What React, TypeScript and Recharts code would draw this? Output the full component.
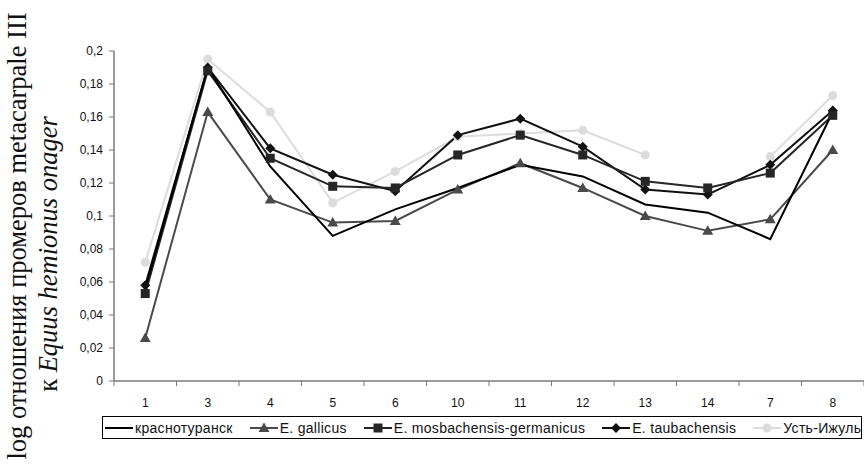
import React from "react";
import { LineChart, Line, XAxis, YAxis, Legend } from "recharts";

const categories = ["1", "3", "4", "5", "6", "10", "11", "12", "13", "14", "7", "8"];
const krasnoturansk = [0.056, 0.19, 0.13, 0.088, 0.104, 0.117, 0.131, 0.124, 0.107, 0.102, 0.086, 0.163];
const gallicus = [0.026, 0.163, 0.11, 0.096, 0.097, 0.116, 0.132, 0.117, 0.1, 0.091, 0.098, 0.14];
const mosbachensis = [0.053, 0.188, 0.135, 0.118, 0.117, 0.137, 0.149, 0.137, 0.121, 0.117, 0.126, 0.161];
const taubachensis = [0.058, 0.19, 0.141, 0.125, 0.115, 0.149, 0.159, 0.142, 0.116, 0.113, 0.131, 0.164];
const ustIzhul = [0.072, 0.195, 0.163, 0.108, 0.127, 0.148, 0.15, 0.152, 0.137, null, 0.136, 0.173];
const yTicks = [0, 0.02, 0.04, 0.06, 0.08, 0.1, 0.12, 0.14, 0.16, 0.18, 0.2];

const data = categories.map((cat, i) => ({
  cat,
  krasnoturansk: krasnoturansk[i],
  gallicus: gallicus[i],
  mosbachensis: mosbachensis[i],
  taubachensis: taubachensis[i],
  ustIzhul: ustIzhul[i],
}));

type Marker = "none" | "triangle" | "square" | "diamond" | "circle";

const series: { key: string; name: string; color: string; marker: Marker }[] = [
  { key: "krasnoturansk", name: "краснотуранск", color: "#000000", marker: "none" },
  { key: "gallicus", name: "E. gallicus", color: "#4a4a4a", marker: "triangle" },
  { key: "mosbachensis", name: "E. mosbachensis-germanicus", color: "#262626", marker: "square" },
  { key: "taubachensis", name: "E. taubachensis", color: "#111111", marker: "diamond" },
  { key: "ustIzhul", name: "Усть-Ижуль", color: "#dcdcdc", marker: "circle" },
];

const W = 864;
const H = 467;
const LEFT = 114;
const BAND = (W - LEFT) / categories.length;
const FONT = "'Liberation Sans', Arial, sans-serif";

function markerShape(type: Marker, cx: number, cy: number, color: string, key?: string | number) {
  switch (type) {
    case "triangle":
      return <path key={key} d={`M${cx},${cy - 5.5}L${cx + 5.5},${cy + 4}L${cx - 5.5},${cy + 4}Z`} fill={color} />;
    case "square":
      return <rect key={key} x={cx - 4.5} y={cy - 4.5} width={9} height={9} fill={color} />;
    case "diamond":
      return <path key={key} d={`M${cx},${cy - 5}L${cx + 5},${cy}L${cx},${cy + 5}L${cx - 5},${cy}Z`} fill={color} />;
    case "circle":
      return <circle key={key} cx={cx} cy={cy} r={4.5} fill={color} />;
    default:
      return <g key={key} />;
  }
}

const makeDot = (type: Marker, color: string) => (props: any) => {
  const { cx, cy, index, value } = props;
  if (value == null || cy == null || isNaN(cy)) return <g key={`d${index}`} />;
  return markerShape(type, cx, cy, color, `d${index}`);
};

// tickSize 5 + tickMargin 12 -> axis line sits 17px above the tick y
const XTick = (props: any) => {
  const { x, y, payload, index } = props;
  const axisY = y - 17;
  return (
    <g>
      <line x1={x - BAND / 2} x2={x - BAND / 2} y1={axisY} y2={axisY + 5} stroke="#7a7a7a" />
      {index === categories.length - 1 && (
        <line x1={x + BAND / 2} x2={x + BAND / 2} y1={axisY} y2={axisY + 5} stroke="#7a7a7a" />
      )}
      <text x={x} y={y} dy="0.71em" textAnchor="middle" fontSize={12} fontFamily={FONT} fill="#111">
        {payload.value}
      </text>
    </g>
  );
};

const AxisTitle = () => (
  <g fontFamily="'Liberation Serif', 'Times New Roman', serif" fontSize={26.5} fill="#111">
    <text transform="translate(26,236) rotate(-90)" textAnchor="middle">
      log отношения промеров metacarpale III
    </text>
    <text transform="translate(57,254) rotate(-90)" textAnchor="middle">
      к <tspan fontStyle="italic">Equus hemionus onager</tspan>
    </text>
  </g>
);

const LegendBox = () => (
  <div
    style={{
      border: "1px solid #000",
      height: 23,
      boxSizing: "border-box",
      display: "flex",
      alignItems: "center",
      fontFamily: FONT,
      fontSize: 14,
      letterSpacing: 0.3,
      color: "#111",
      paddingLeft: 2,
      whiteSpace: "nowrap",
      overflow: "hidden",
    }}
  >
    {series.map((s) => (
      <div key={s.key} style={{ display: "flex", alignItems: "center", marginRight: 17, flexShrink: 0 }}>
        <svg width={28} height={12} style={{ marginRight: 2 }}>
          <line x1={0} x2={28} y1={6} y2={6} stroke={s.color} strokeWidth={2} />
          {markerShape(s.marker, 14, 6, s.color)}
        </svg>
        <span>{s.name}</span>
      </div>
    ))}
  </div>
);

export default function App() {
  return (
    <div style={{ position: "absolute", left: 0, top: 0, width: W, height: H, background: "#fff" }}>
      <LineChart width={W} height={H} data={data} margin={{ top: 51, right: 0, bottom: 56, left: 0 }}>
        <XAxis
          dataKey="cat"
          interval={0}
          height={30}
          padding={{ left: BAND / 2, right: BAND / 2 }}
          tickLine={false}
          tickSize={5}
          tickMargin={12}
          axisLine={{ stroke: "#7a7a7a", strokeWidth: 1.5 }}
          tick={<XTick />}
        />
        <YAxis
          width={LEFT}
          domain={[0, 0.2]}
          ticks={yTicks}
          interval={0}
          tickSize={5}
          tickMargin={6}
          tickLine={{ stroke: "#7a7a7a" }}
          axisLine={{ stroke: "#7a7a7a", strokeWidth: 1.5 }}
          tick={{ fontSize: 12, fontFamily: FONT, fill: "#111" }}
          tickFormatter={(v: number) => String(Math.round(v * 100) / 100).replace(".", ",")}
          label={{ content: <AxisTitle /> }}
        />
        <Legend
          layout="vertical"
          verticalAlign="middle"
          align="center"
          wrapperStyle={{ left: 102, top: 416, width: 760, height: 23 }}
          content={<LegendBox />}
        />
        {[...series].reverse().map((s) => (
          <Line
            key={s.key}
            type="linear"
            dataKey={s.key}
            name={s.name}
            stroke={s.color}
            strokeWidth={2}
            dot={makeDot(s.marker, s.color)}
            activeDot={false}
            connectNulls={false}
            isAnimationActive={false}
          />
        ))}
      </LineChart>
    </div>
  );
}
